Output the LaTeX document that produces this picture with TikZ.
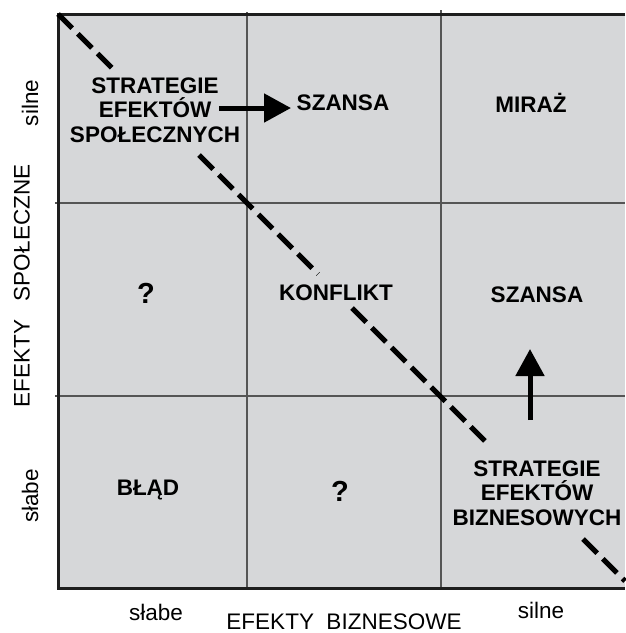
\documentclass[tikz,border=0pt]{standalone}
\usepackage{fontspec}
\setmainfont{Liberation Sans}
\usetikzlibrary{arrows.meta}
\definecolor{cellgray}{RGB}{214,215,217}
\definecolor{gridline}{RGB}{85,85,85}
\definecolor{frameline}{RGB}{30,30,30}
\begin{document}
\begin{tikzpicture}[x=1pt,y=-1pt,
  cell/.style={font=\fontsize{22.5}{24.5}\selectfont\bfseries, align=center, inner sep=0pt},
  qmark/.style={font=\fontsize{29}{30}\selectfont\bfseries, inner sep=0pt},
  axis/.style={font=\fontsize{22.5}{24}\selectfont, inner sep=0pt},
  grid/.style={draw=gridline, line width=2pt},
  frame/.style={draw=frameline, line width=3pt},
  diag/.style={draw=black, line width=5pt, dash pattern=on 20pt off 8pt},
  bigarrow/.style={draw=black, line width=5pt, -{Triangle[length=27pt,width=28pt]}}
]
\useasboundingbox[fill=white] (0,0) rectangle (625,633);
% background cells
\fill[cellgray] (58,14) rectangle (625,588);
% grid lines
\draw[grid] (247,12) -- (247,590);
\draw[grid] (441,10) -- (441,590);
\draw[grid] (55,203) -- (625,203);
\draw[grid] (55,396) -- (625,396);
% frame
\draw[frame] (625,14) -- (58,14) -- (58,588) -- (625,588);
% diagonal dashed line segments
\coordinate (d1a) at (58,14);
\coordinate (d1b) at (112,68);
\coordinate (d2a) at (199,155);
\coordinate (d2b) at (318,274);
\coordinate (d3a) at (352,308);
\coordinate (d3b) at (490,446);
\coordinate (d4a) at (583,539);
\coordinate (d4b) at (625,581);
\draw[diag] (d1a) -- (d1b);
\draw[diag] (d2a) -- (d2b);
\draw[diag] (d3a) -- (d3b);
\draw[diag] (d4a) -- (d4b);
% cell labels
\node[cell] (strat1) at (155,110) {STRATEGIE\\EFEKTÓW\\SPOŁECZNYCH};
\node[cell] (szansa1) at (343,103) {SZANSA};
\node[cell] (miraz) at (531,103) {MIRAŻ};
\node[qmark] (q1) at (146,293) {?};
\node[cell] (konflikt) at (336,293) {KONFLIKT};
\node[cell] (szansa2) at (537,295) {SZANSA};
\node[cell] (blad) at (148,490) {BŁĄD};
\node[qmark] (q2) at (340,491) {?};
\node[cell] (strat2) at (537,493) {STRATEGIE\\EFEKTÓW\\BIZNESOWYCH};
% arrows
\coordinate (a1s) at (219,108);
\coordinate (a1e) at (291,108);
\coordinate (a2s) at (530,420);
\coordinate (a2e) at (530,349);
\draw[bigarrow] (a1s) -- (a1e);
\draw[bigarrow] (a2s) -- (a2e);
% axis labels
\node[axis] (xlabel) at (344,622) {EFEKTY\ \ BIZNESOWE};
\node[axis] (xweak) at (156,612) {słabe};
\node[axis] (xstrong) at (541,610) {silne};
\node[axis, rotate=90] (ylabel) at (22,286) {EFEKTY\ \ \ SPOŁECZNE};
\node[axis, rotate=90] (ystrong) at (30,103) {silne};
\node[axis, rotate=90] (yweak) at (30,496) {słabe};
\end{tikzpicture}
\end{document}
